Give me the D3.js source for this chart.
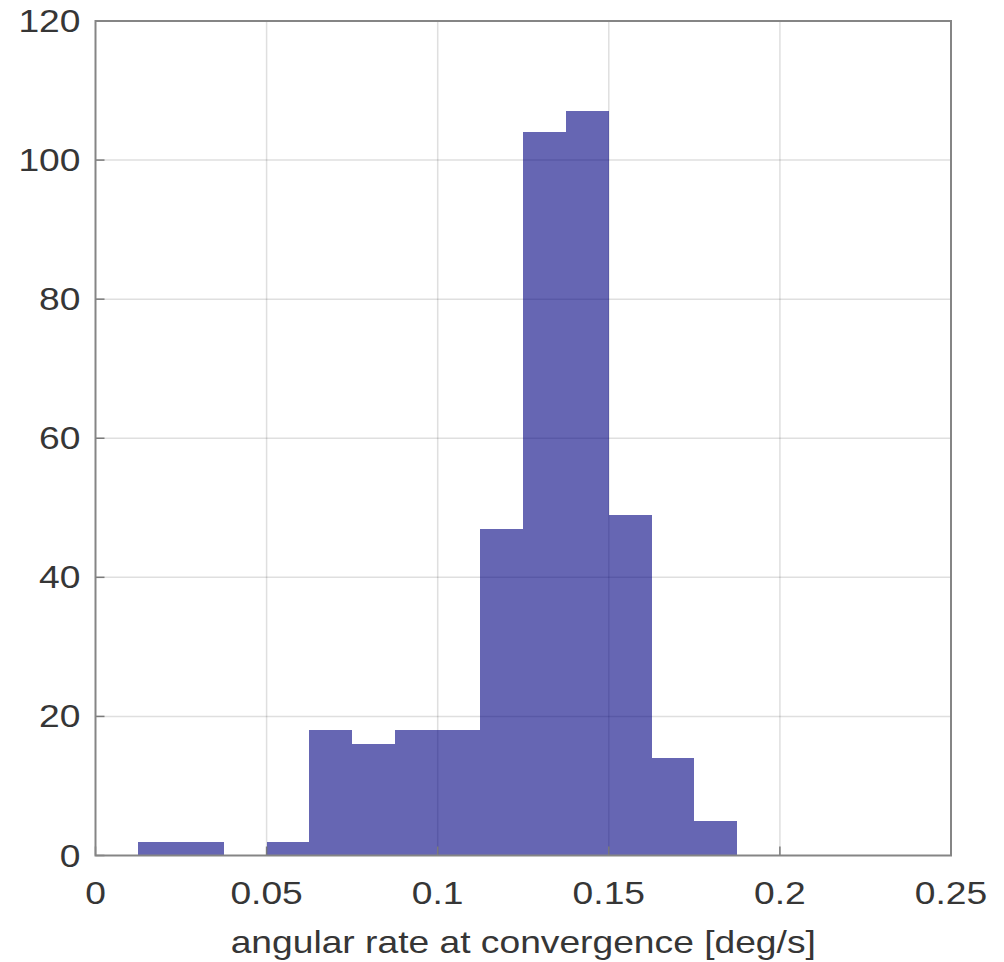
<!DOCTYPE html>
<html>
<head>
<meta charset="utf-8">
<script src="https://cdn.jsdelivr.net/npm/d3@7/dist/d3.min.js"></script>
<style>
  body { margin: 0; background: #fff; }
  svg text { font-family: "Liberation Sans", Arial, sans-serif; fill: #363636; }
</style>
</head>
<body>
<svg id="chart" width="1004" height="962"></svg>
<script>
// histogram bins (edges) and counts
var binEdges = [0.0125, 0.025, 0.0375, 0.05, 0.0625, 0.075, 0.0875, 0.1, 0.1125, 0.125, 0.1375, 0.15, 0.1625, 0.175, 0.1875];
var counts = [2, 2, 0, 2, 18, 16, 18, 18, 47, 104, 107, 49, 14, 5];
var xTicks = [0, 0.05, 0.1, 0.15, 0.2, 0.25];
var xTickLabels = ["0", "0.05", "0.1", "0.15", "0.2", "0.25"];
var yTicks = [0, 20, 40, 60, 80, 100, 120];
var xLabel = "angular rate at convergence [deg/s]";

var svg = d3.select("#chart");
var margin = { left: 95.5, right: 53, top: 21, bottom: 106.5 };
var W = 1004, H = 962;
var stretch = 1.2; // text in the picture is a bit wider than tall

var x = d3.scaleLinear().domain([0, 0.25]).range([margin.left, W - margin.right]);
var y = d3.scaleLinear().domain([0, 120]).range([H - margin.bottom, margin.top]);

var bins = counts.map(function (c, i) {
    return { x0: binEdges[i], x1: binEdges[i + 1], n: c };
});

// grid
var grid = svg.append("g");
grid.selectAll("line.gx").data(xTicks.slice(1, -1)).enter().append("line")
    .attr("x1", d => x(d)).attr("x2", d => x(d))
    .attr("y1", y(0)).attr("y2", y(120))
    .attr("stroke", "#262626").attr("stroke-opacity", 0.15).attr("stroke-width", 1.5);
grid.selectAll("line.gy").data(yTicks.slice(1, -1)).enter().append("line")
    .attr("y1", d => y(d)).attr("y2", d => y(d))
    .attr("x1", x(0)).attr("x2", x(0.25))
    .attr("stroke", "#262626").attr("stroke-opacity", 0.15).attr("stroke-width", 1.5);

// bars
svg.append("g").selectAll("rect")
    .data(bins.filter(d => d.n > 0))
    .enter()
    .append("rect")
    .attr("x", d => Math.round(x(d.x0)))
    .attr("width", d => Math.round(x(d.x1)) - Math.round(x(d.x0)))
    .attr("y", d => y(d.n))
    .attr("height", d => y(0) - y(d.n))
    .attr("shape-rendering", "crispEdges")
    .attr("fill", "rgb(0,0,128)")
    .attr("fill-opacity", 0.6);

// ticks (inside)
var tk = svg.append("g").attr("stroke", "#7a7a7a").attr("stroke-width", 1.5);
tk.selectAll("line.tx").data(xTicks).enter().append("line")
    .attr("x1", d => x(d)).attr("x2", d => x(d))
    .attr("y1", y(0)).attr("y2", y(0) - 9);
tk.selectAll("line.ty").data(yTicks).enter().append("line")
    .attr("y1", d => y(d)).attr("y2", d => y(d))
    .attr("x1", x(0)).attr("x2", x(0) + 9);

// box
svg.append("rect")
    .attr("x", x(0)).attr("y", y(120))
    .attr("width", x(0.25) - x(0)).attr("height", y(0) - y(120))
    .attr("fill", "none").attr("stroke", "#858585").attr("stroke-width", 2);

// tick labels
svg.append("g").selectAll("text")
    .data(xTicks)
    .enter()
    .append("text")
    .attr("transform", d => `translate(${x(d)},${y(0) + 48}) scale(${stretch},1)`)
    .attr("text-anchor", "middle")
    .attr("font-size", 31)
    .text((d, i) => xTickLabels[i]);

svg.append("g").selectAll("text")
    .data(yTicks)
    .enter()
    .append("text")
    .attr("transform", d => `translate(${x(0) - 15},${y(d) + 11}) scale(${stretch},1)`)
    .attr("text-anchor", "end")
    .attr("font-size", 31)
    .text(d => d);

// axis label
svg.append("text")
    .attr("transform", `translate(${(x(0) + x(0.25)) / 2},${y(0) + 97}) scale(${stretch},1)`)
    .attr("text-anchor", "middle")
    .attr("font-size", 31)
    .text(xLabel);
</script>
</body>
</html>
